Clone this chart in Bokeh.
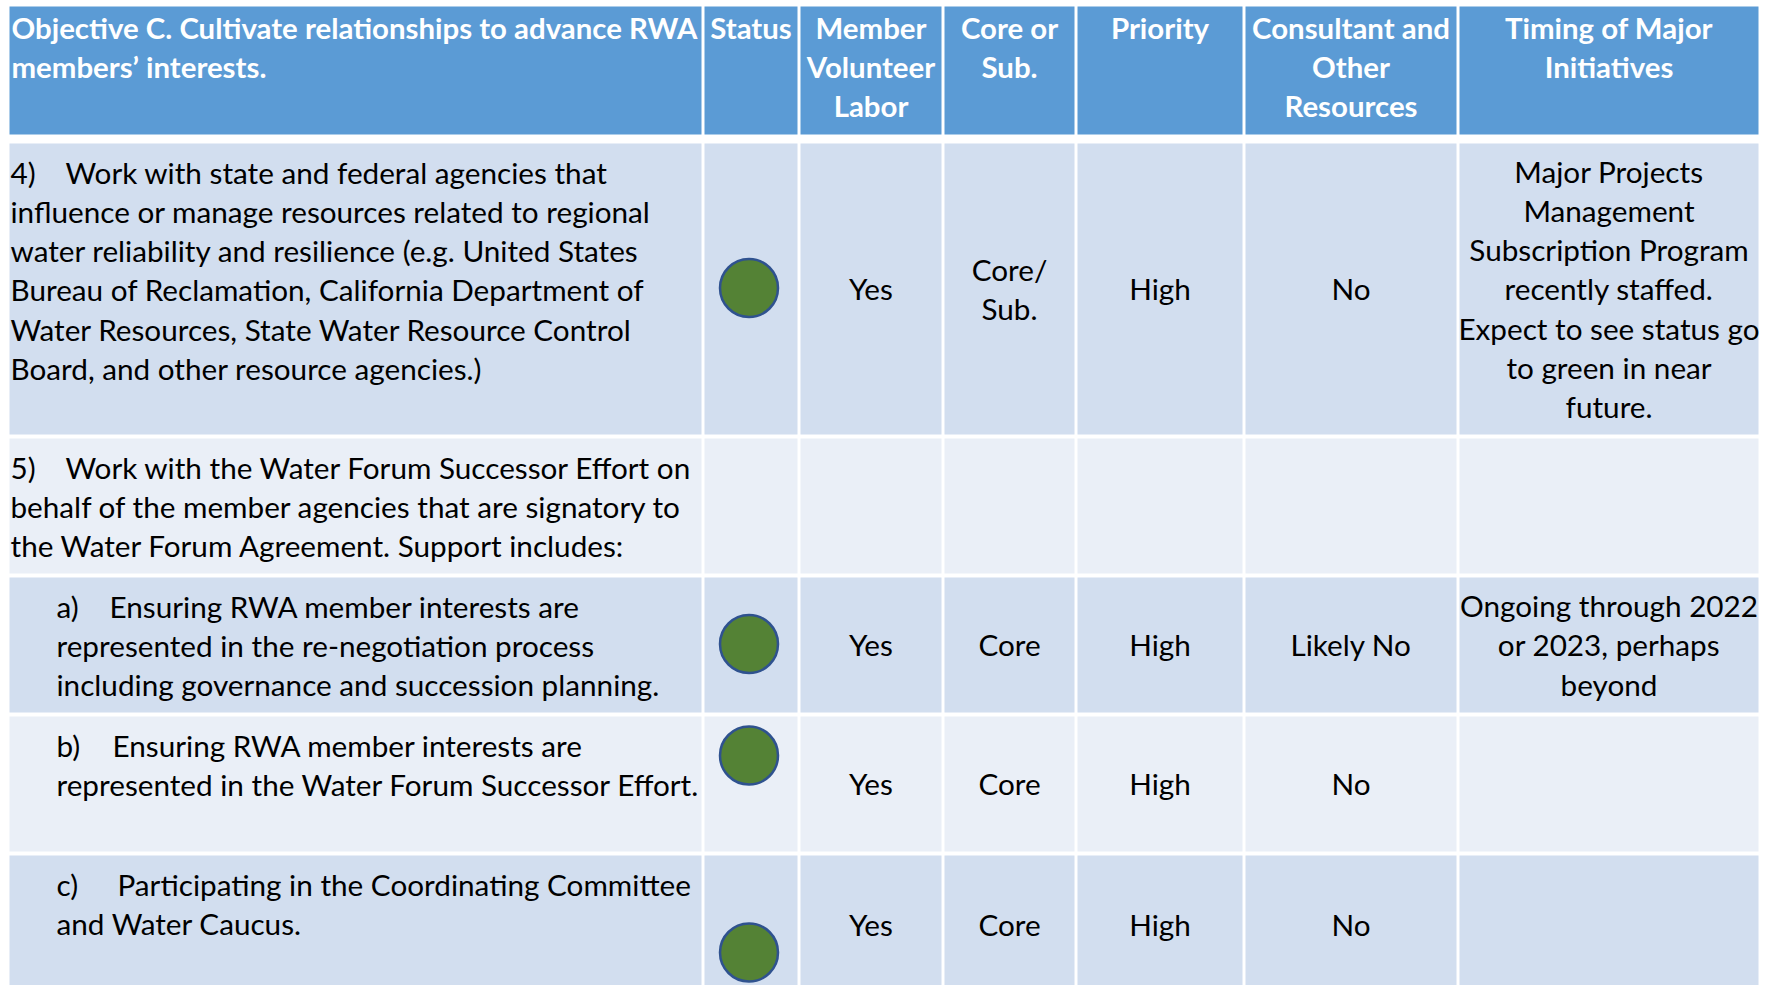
from bokeh.plotting import figure
from bokeh.models import Range1d, ColumnDataSource
from bokeh.embed import file_html
from bokeh.resources import INLINE
from bokeh.core.properties import value

# ---------------- data ----------------
headers = [
    ["Objective C. Cultivate relationships to advance RWA", "members\u2019 interests."],
    ["Status"],
    ["Member", "Volunteer", "Labor"],
    ["Core or", "Sub."],
    ["Priority"],
    ["Consultant and", "Other", "Resources"],
    ["Timing of Major", "Initiatives"],
]
item_labels = ["4)", "5)", "a)", "b)", "c)"]
item_text = [
    ["Work with state and federal agencies that",
     "influence or manage resources related to regional",
     "water reliability and resilience (e.g. United States",
     "Bureau of Reclamation, California Department of",
     "Water Resources, State Water Resource Control",
     "Board, and other resource agencies.)"],
    ["Work with the Water Forum Successor Effort on",
     "behalf of the member agencies that are signatory to",
     "the Water Forum Agreement. Support includes:"],
    ["Ensuring RWA member interests are",
     "represented in the re-negotiation process",
     "including governance and succession planning."],
    ["Ensuring RWA member interests are",
     "represented in the Water Forum Successor Effort."],
    ["Participating in the Coordinating Committee",
     "and Water Caucus."],
]
status = ["green", "", "green", "green", "green"]
volunteer = [["Yes"], [], ["Yes"], ["Yes"], ["Yes"]]
core_sub = [["Core/", "Sub."], [], ["Core"], ["Core"], ["Core"]]
priority = [["High"], [], ["High"], ["High"], ["High"]]
consultant = [["No"], [], ["Likely No"], ["No"], ["No"]]
timing = [["Major Projects", "Management", "Subscription Program", "recently staffed.",
           "Expect to see status go", "to green in near", "future."],
          [], ["Ongoing through 2022", "or 2023, perhaps", "beyond"], [], []]

# ---------------- layout ----------------
W, H = 1770, 985
col_l = [9, 704, 800, 944, 1077, 1245, 1459]
col_r = [701, 797, 941, 1074, 1242, 1456, 1758]
row_t = [6, 143, 438, 577, 716, 855]
row_b = [134, 434, 573, 712, 851, 993]
row_fill = ["#5B9BD5", "#D2DEEF", "#EAEFF7", "#D2DEEF", "#EAEFF7", "#D2DEEF"]
LH = 39.2
FS = "29.7px"
FS_B = "29.4px"
FONT = value("Lato")
DY = -10  # renderer baseline correction
label_x = [10, 10, 56, 56, 56]
tab_x = [65, 65, 109, 112, 117]
cont_x = [10, 10, 56, 56, 56]
status_dy = [0, 0, 0, -27.5, 29]

p = figure(width=W, height=H, output_backend="svg", toolbar_location=None,
           x_range=Range1d(0, W), y_range=Range1d(H, 0),
           min_border=0, border_fill_color="white", background_fill_color="white",
           outline_line_color=None)
p.axis.visible = False
p.grid.visible = False

# cells
ql, qr, qt, qb, qc = [], [], [], [], []
for r in range(len(row_t)):
    for c in range(len(col_l)):
        ql.append(col_l[c]); qr.append(col_r[c])
        qt.append(row_t[r]); qb.append(row_b[r]); qc.append(row_fill[r])
p.quad(left=ql, right=qr, top=qt, bottom=qb, fill_color=qc, line_color=None)

def add_text(xs, ys, ts, align, color, bold):
    src = ColumnDataSource(dict(x=xs, y=[y + DY for y in ys], t=ts))
    p.text(x="x", y="y", text="t", source=src, text_align=align,
           text_baseline="alphabetic", text_color=color, text_font=FONT,
           text_font_size=FS_B if bold else FS,
           text_font_style="bold" if bold else "normal")

# header
hx, hy, ht = [], [], []
for c, lines in enumerate(headers[1:], start=1):
    for i, t in enumerate(lines):
        hx.append((col_l[c] + col_r[c]) / 2); hy.append(36.7 + i * LH); ht.append(t)
add_text(hx, hy, ht, "center", "white", True)
add_text([11] * len(headers[0]), [36.7 + i * LH for i in range(len(headers[0]))],
         headers[0], "left", "white", True)

# description column (top aligned)
dx, dy, dt = [], [], []
for r in range(len(item_labels)):
    top = row_t[r + 1]
    dx.append(label_x[r]); dy.append(top + 38.7); dt.append(item_labels[r])
    for i, t in enumerate(item_text[r]):
        dx.append(tab_x[r] if i == 0 else cont_x[r]); dy.append(top + 38.7 + i * LH); dt.append(t)
add_text(dx, dy, dt, "left", "black", False)

# centered columns (middle aligned)
cx, cy, ct = [], [], []
for c, colvals in [(2, volunteer), (3, core_sub), (4, priority), (5, consultant), (6, timing)]:
    for r in range(len(colvals)):
        lines = colvals[r]
        n = len(lines)
        mid = (row_t[r + 1] + row_b[r + 1]) / 2
        for i, t in enumerate(lines):
            cx.append((col_l[c] + col_r[c]) / 2)
            cy.append(mid + 9.8 + (i - (n - 1) / 2) * LH)
            ct.append(t)
add_text(cx, cy, ct, "center", "black", False)

# status circles
sx, sy = [], []
for r, s in enumerate(status):
    if s == "green":
        sx.append((col_l[1] + col_r[1]) / 2 - 2)
        sy.append((row_t[r + 1] + row_b[r + 1]) / 2 - 1 + status_dy[r])
p.ellipse(x=sx, y=sy, width=58, height=58, fill_color="#548235",
          line_color="#2F528F", line_width=2.5)

open("out.html", "w").write(file_html(p, INLINE))
